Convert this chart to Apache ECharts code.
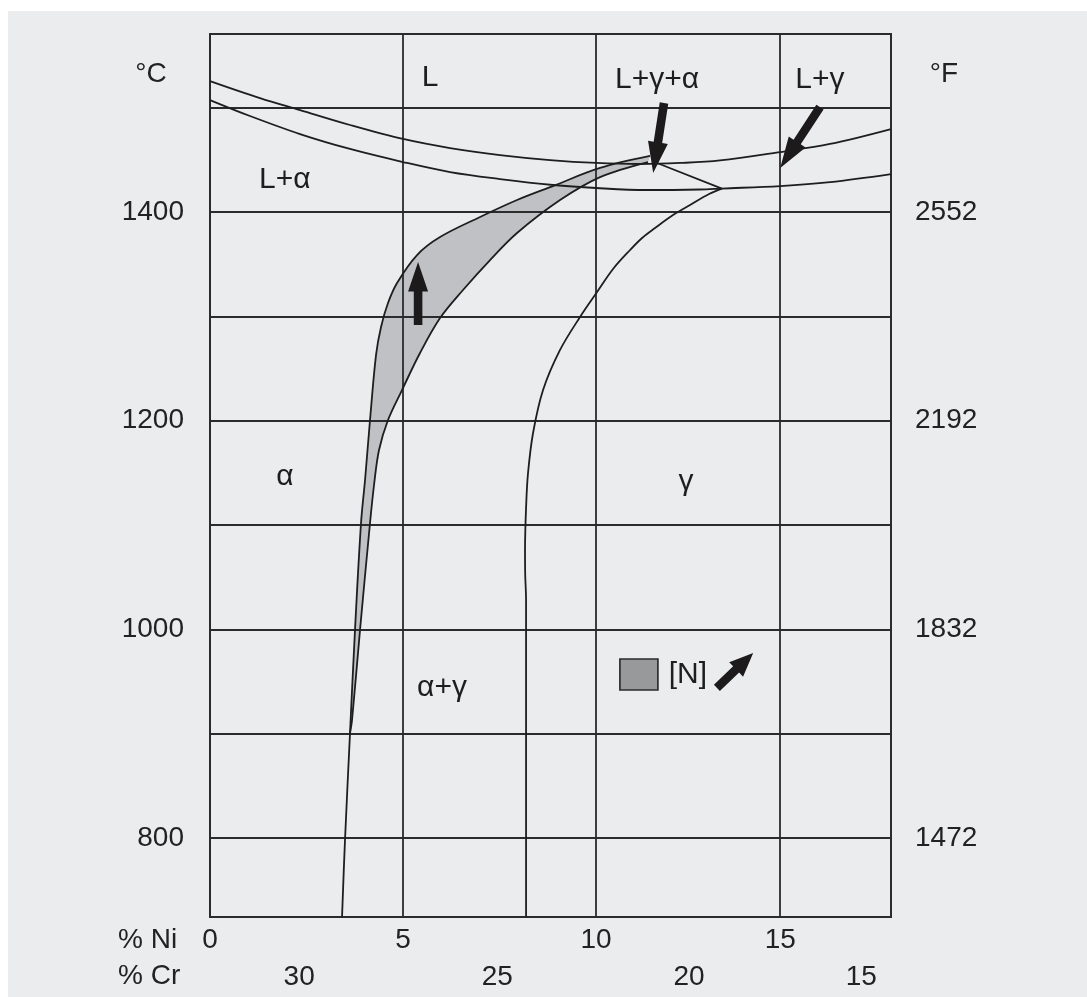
<!DOCTYPE html>
<html><head><meta charset="utf-8">
<script src="https://cdn.jsdelivr.net/npm/echarts@6/dist/echarts.min.js"></script>
<style>html,body{margin:0;padding:0;background:#fff}#chart{width:1087px;height:997px}</style>
</head><body><div id="chart"></div>
<script>
// ---- axes ----
const niRange = [0, 17.64];
const tempRange = [724.4, 1570.6];
const celsiusTicks = [800, 1000, 1200, 1400];
const fahrenheitLabels = ['1472', '1832', '2192', '2552'];
const tempGridLines = [800, 900, 1000, 1100, 1200, 1300, 1400, 1500];
const niGridLines = [5, 10, 14.77];
const niTicks = [0, 5, 10, 14.77];
const niTickLabels = ['0', '5', '10', '15'];
const crTicks = [2.31, 7.44, 12.41, 16.87];
const crTickLabels = ['30', '25', '20', '15'];

// ---- phase boundaries [% Ni, °C] ----
const upperLiquidus = [[0,1525.5],[1.295,1509.2],[2.332,1497.7],[3.627,1483.4],[5.0,1470.0],[6.218,1461.3],[7.513,1454.6],[8.808,1449.8],[10.0,1447.0],[11.14,1446.0],[12.18,1447.0],[13.21,1449.4],[14.77,1457.5],[16.06,1465.2],[17.64,1479.5]];
const lowerLiquidus = [[0,1507.3],[1.036,1492.0],[2.332,1474.7],[3.627,1460.4],[5.0,1447.9],[6.218,1438.3],[7.513,1431.6],[8.886,1425.9],[10.0,1423.0],[11.30,1421.1],[12.69,1421.6],[13.26,1422.5],[14.77,1424.9],[16.06,1428.7],[17.64,1436.4]];
const tieLine = [[11.58,1447.0],[13.26,1422.5]];
const gammaBoundary = [[13.26,1422.5],[12.927,1417.2],[12.435,1406.7],[11.995,1397.1],[11.528,1384.7],[11.192,1375.1],[10.881,1363.6],[10.44,1345.4],[10.026,1323.3],[9.585,1299.4],[9.067,1267.8],[8.627,1229.4],[8.368,1188.2],[8.238,1149.9],[8.19,1119.2],[8.16,1076.1],[8.165,1052.1],[8.187,1028.2],[8.187,724.4]];
const alphaOuter = [[11.399,1453.7],[10.104,1442.2],[8.886,1424.9],[7.953,1411.5],[6.995,1395.2],[5.959,1376.0],[5.363,1358.8],[4.845,1332.0],[4.611,1312.8],[4.43,1289.8],[4.301,1263.0],[4.145,1200.7],[4.016,1143.2],[3.912,1102.0],[3.756,999.4],[3.627,900.7],[3.497,798.2],[3.42,724.4]];
const alphaInner = [[11.347,1447.9],[10.104,1433.5],[9.067,1411.5],[7.953,1379.9],[7.254,1354.0],[6.554,1325.3],[5.959,1298.4],[5.44,1264.9],[4.974,1229.4],[4.611,1200.7],[4.378,1171.9],[4.249,1138.4],[4.145,1102.0],[3.886,999.4],[3.679,913.2],[3.627,900.7]];

// ---- annotations ----
const regionLabelTexts = ['L', 'L+γ+α', 'L+γ', 'L+α', 'α', 'γ', 'α+γ', '[N]'];
const regionLabelPos = [[5.70,1528.4],[11.58,1526.5],[15.80,1526.5],[1.94,1430.7],[1.94,1146.0],[12.33,1141.3],[6.01,943.9],[12.38,956.3]];
const legendSwatch = [[11.11,956.8]];
const arrows = [[5.39,1291.7,5.39,1352.1],[11.76,1504.5,11.48,1437.4],[15.80,1500.6,14.77,1442.2],[13.13,943.9,14.07,977.4]];

const FONT = 'Liberation Sans, Arial, Helvetica, sans-serif';
const INK = '#1e1e1e';
function nearestLabel(ticks, labels, v) {
  let best = 0;
  for (let i = 1; i < ticks.length; i++) if (Math.abs(ticks[i] - v) < Math.abs(ticks[best] - v)) best = i;
  return labels[best];
}
const lineStyle = { color: INK, width: 1.8 };
function curve(data, smooth) {
  return { type: 'line', data, smooth, symbol: 'none', lineStyle, z: 5, silent: true, animation: false, clip: true };
}
function renderArrow(params, api) {
  const a = api.coord([api.value(0), api.value(1)]);
  const b = api.coord([api.value(2), api.value(3)]);
  const dx = b[0] - a[0], dy = b[1] - a[1];
  const len = Math.hypot(dx, dy);
  const ux = dx / len, uy = dy / len, nx = -uy, ny = ux;
  const hl = Math.min(31, len * 0.47), hw = 10, sw = 4.3;
  const bx = b[0] - ux * hl, by = b[1] - uy * hl;
  return {
    type: 'polygon',
    shape: { points: [
      [a[0] + nx * sw, a[1] + ny * sw], [bx + nx * sw, by + ny * sw], [bx + nx * hw, by + ny * hw],
      [b[0], b[1]], [bx - nx * hw, by - ny * hw], [bx - nx * sw, by - ny * sw], [a[0] - nx * sw, a[1] - ny * sw]
    ] },
    style: { fill: '#1c1a1b' }
  };
}
function renderBand(params, api) {
  const last = alphaInner[alphaInner.length - 1];
  const mergeIdx = alphaOuter.findIndex(p => p[0] === last[0] && p[1] === last[1]);
  const pts = alphaOuter.slice(0, mergeIdx + 1).concat(alphaInner.slice().reverse()).map(p => api.coord(p));
  return { type: 'polygon', shape: { points: pts }, style: { fill: '#c0c1c4' } };
}

const chart = echarts.init(document.getElementById('chart'), null, { renderer: 'canvas' });
const axisText = { fontSize: 28, color: '#222', fontFamily: FONT };
chart.setOption({
  backgroundColor: '#ffffff',
  animation: false,
  graphic: [
    { type: 'rect', z: -100, shape: { x: 8, y: 11, width: 1079, height: 986 }, style: { fill: '#ebecee' }, silent: true },
    { type: 'text', z: 100, x: 151, y: 74, style: { text: '°C', fontSize: 28, fontFamily: FONT, fill: '#222', align: 'center', verticalAlign: 'middle' } },
    { type: 'text', z: 100, x: 944, y: 74, style: { text: '°F', fontSize: 28, fontFamily: FONT, fill: '#222', align: 'center', verticalAlign: 'middle' } },
    { type: 'text', z: 100, x: 118, y: 940, style: { text: '% Ni', fontSize: 28, fontFamily: FONT, fill: '#222', align: 'left', verticalAlign: 'middle' } },
    { type: 'text', z: 100, x: 118, y: 976, style: { text: '% Cr', fontSize: 28, fontFamily: FONT, fill: '#222', align: 'left', verticalAlign: 'middle' } }
  ],
  grid: [
    { left: 210, right: 196, top: 34, bottom: 80, show: true, borderColor: '#2b2b2b', borderWidth: 2, backgroundColor: 'transparent' },
    { left: 210, right: 196, top: 34, bottom: 80, show: false }
  ],
  xAxis: [
    { type: 'value', gridIndex: 0, min: niRange[0], max: niRange[1], axisLine: { show: false }, axisTick: { show: false }, splitLine: { show: false },
      axisLabel: Object.assign({ customValues: niTicks, margin: 9, formatter: v => nearestLabel(niTicks, niTickLabels, v) }, axisText) },
    { type: 'value', gridIndex: 1, min: niRange[0], max: niRange[1], offset: 37, axisLine: { show: false }, axisTick: { show: false }, splitLine: { show: false },
      axisLabel: Object.assign({ customValues: crTicks, margin: 9, formatter: v => nearestLabel(crTicks, crTickLabels, v) }, axisText) }
  ],
  yAxis: [
    { type: 'value', gridIndex: 0, position: 'left', min: tempRange[0], max: tempRange[1], axisLine: { show: false }, axisTick: { show: false }, splitLine: { show: false },
      axisLabel: Object.assign({ customValues: celsiusTicks, margin: 26, formatter: v => String(nearestLabel(celsiusTicks, celsiusTicks, v)) }, axisText) },
    { type: 'value', gridIndex: 0, position: 'right', min: tempRange[0], max: tempRange[1], axisLine: { show: false }, axisTick: { show: false }, splitLine: { show: false },
      axisLabel: Object.assign({ customValues: celsiusTicks, margin: 24, formatter: v => nearestLabel(celsiusTicks, fahrenheitLabels, v) }, axisText) },
    { type: 'value', gridIndex: 1, min: tempRange[0], max: tempRange[1], show: false }
  ],
  series: [
    { type: 'line', data: [], z: 1, silent: true, animation: false,
      markLine: { silent: true, symbol: ['none', 'none'], label: { show: false }, animation: false,
        lineStyle: { color: '#2b2b2b', width: 1.8, type: 'solid' },
        emphasis: { disabled: true },
        data: tempGridLines.map(v => ({ yAxis: v })).concat(niGridLines.map(v => ({ xAxis: v }))) } },
    { type: 'custom', z: 3, silent: true, renderItem: renderBand, data: [alphaOuter[0]], encode: { x: 0, y: 1 }, clip: true },
    curve(upperLiquidus, 0.35),
    curve(lowerLiquidus, 0.35),
    curve(tieLine, false),
    curve(gammaBoundary, 0.35),
    curve(alphaOuter, 0.35),
    curve(alphaInner, 0.35),
    { type: 'custom', z: 6, silent: true, renderItem: renderArrow, data: arrows, encode: { x: [0, 2], y: [1, 3] } },
    { type: 'scatter', z: 6, silent: true, data: legendSwatch, symbol: 'rect', symbolSize: [38, 31],
      itemStyle: { color: '#98999b', borderColor: '#2b2b2b', borderWidth: 1.5, opacity: 1 } },
    { type: 'scatter', z: 7, silent: true, symbolSize: 2, itemStyle: { color: 'rgba(0,0,0,0)', opacity: 1 },
      data: regionLabelPos.map((p, i) => ({ value: p, name: regionLabelTexts[i] })),
      label: { show: true, position: 'inside', formatter: '{b}', fontSize: 30, color: '#1e1e1e', fontFamily: FONT, opacity: 1 } }
  ]
});
</script>
</body></html>
